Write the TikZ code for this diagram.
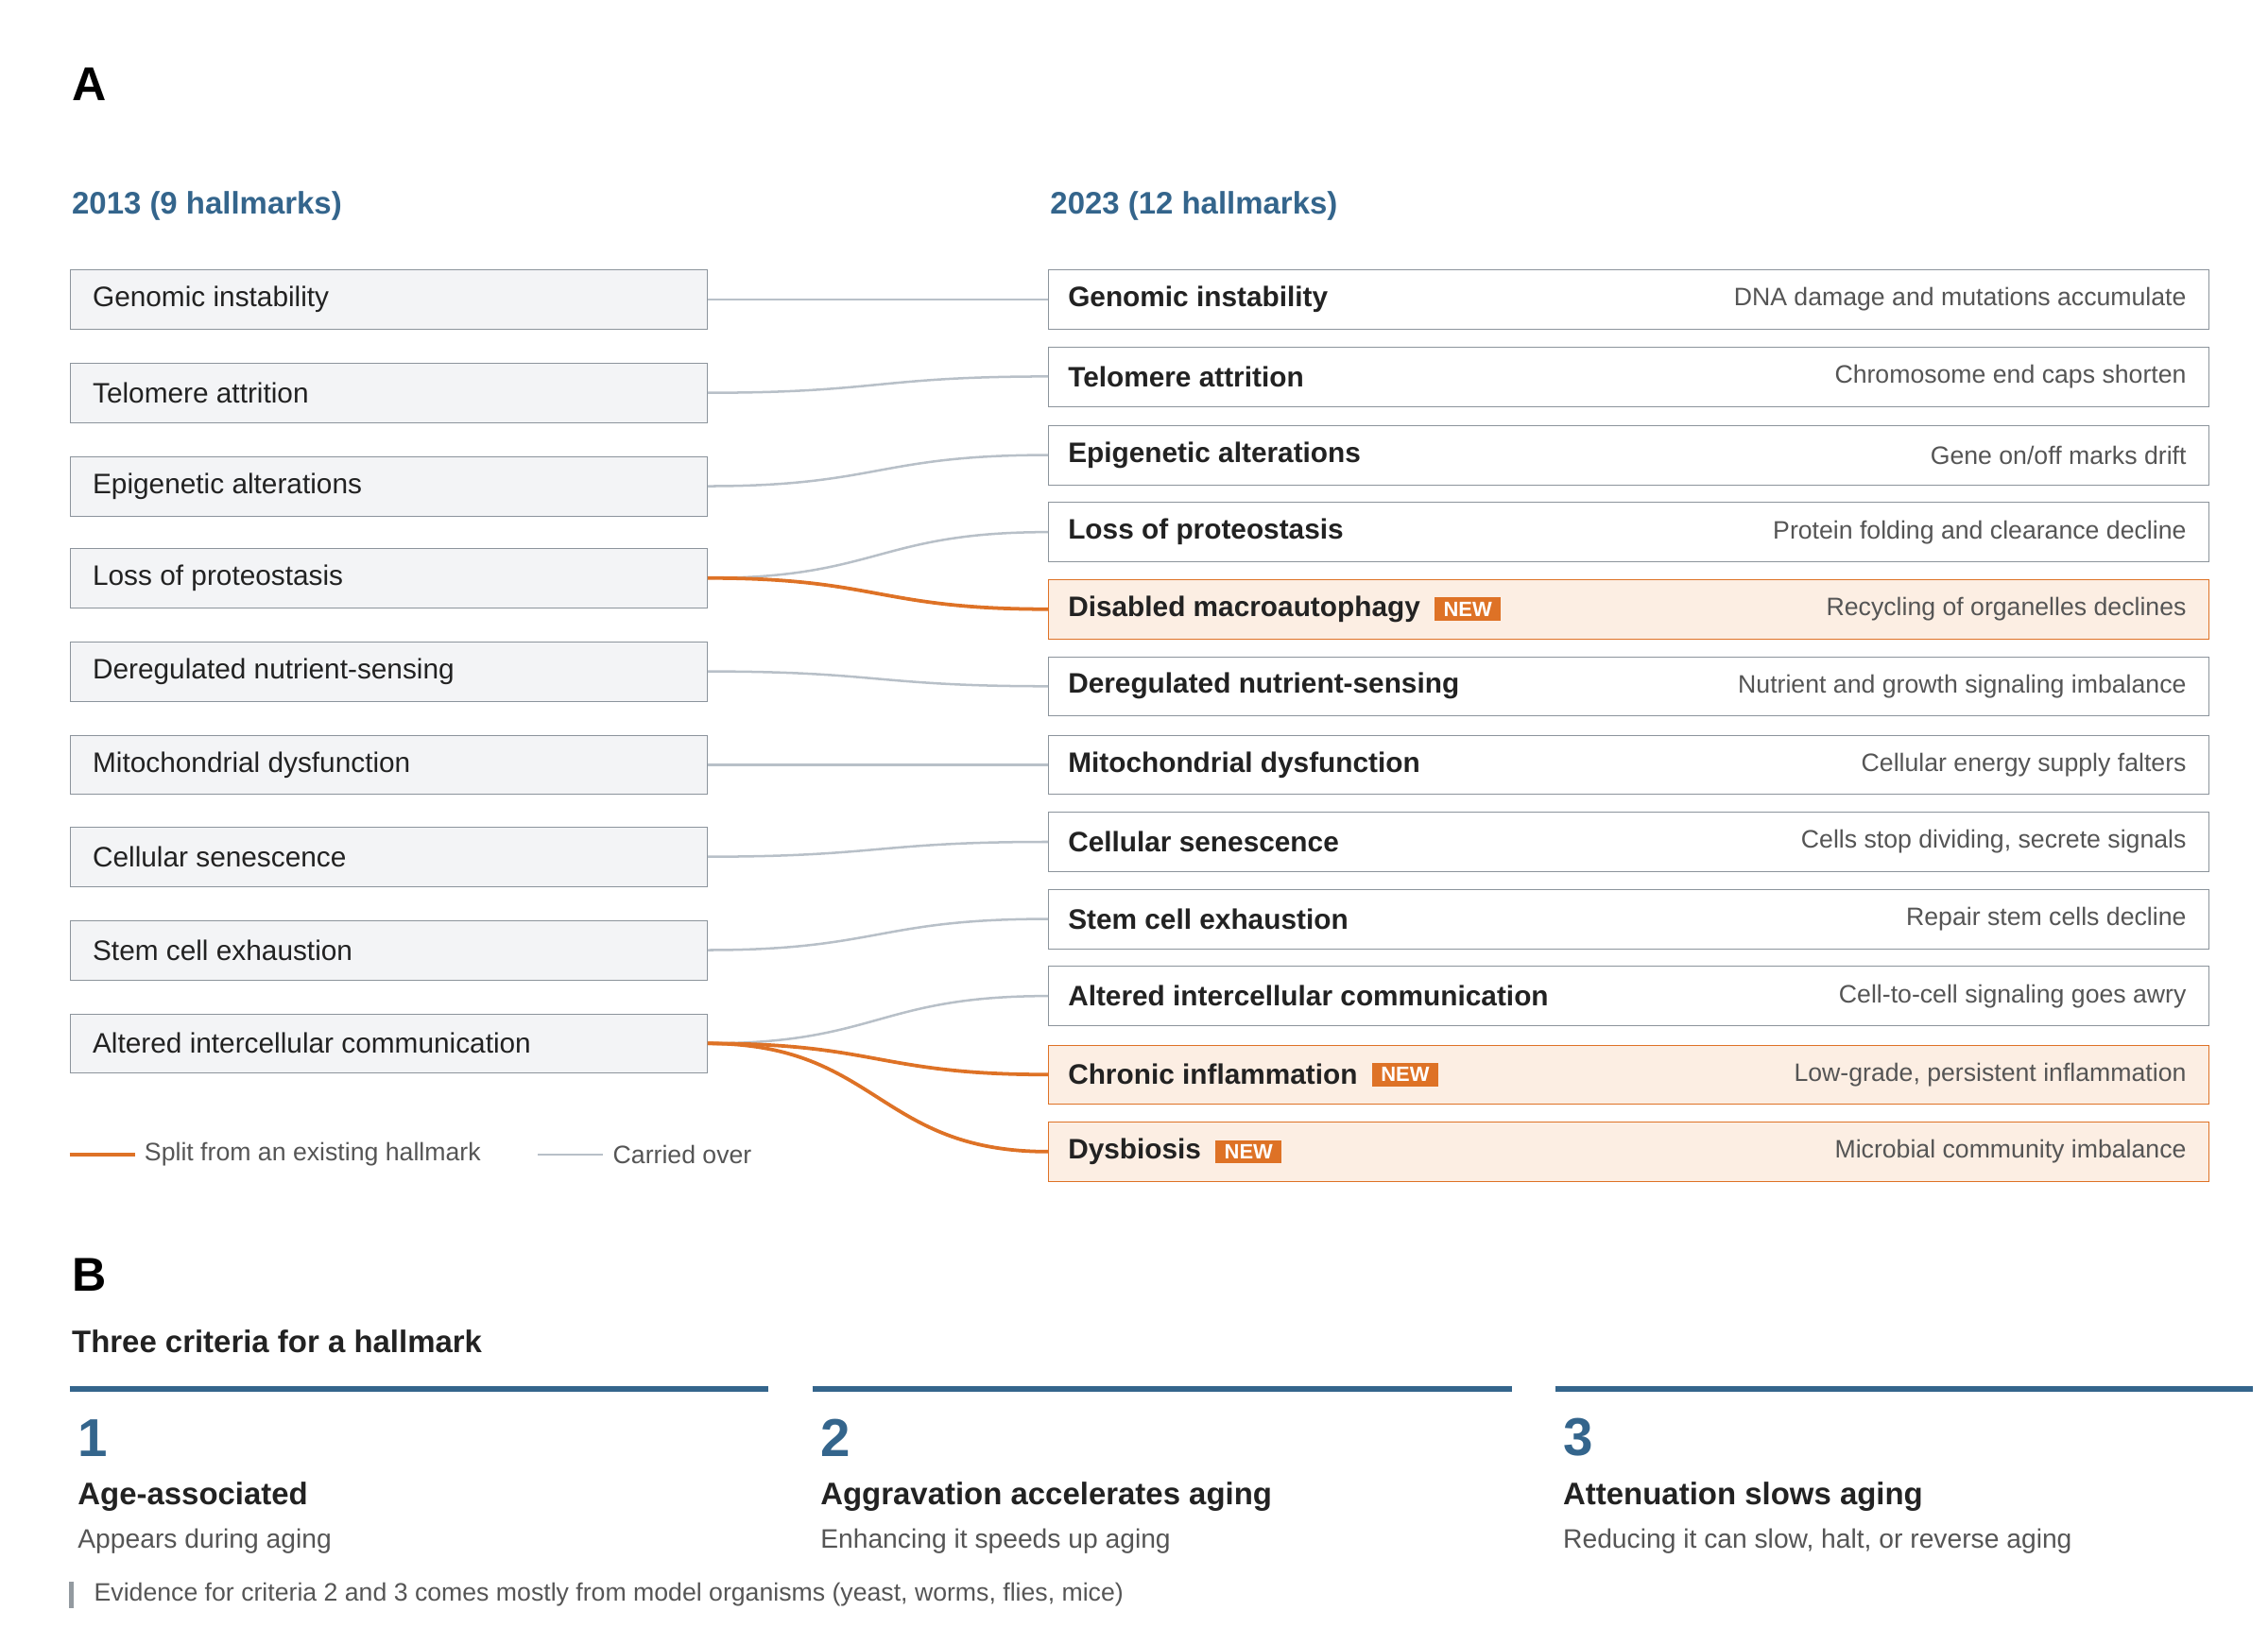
\documentclass[tikz,border=0pt]{standalone}
\usepackage{fontspec}
\setmainfont{Liberation Sans}
\usetikzlibrary{positioning,calc}
\definecolor{hallblue}{RGB}{52,101,140}
\definecolor{hallorange}{RGB}{222,114,38}
\definecolor{hallorangebg}{RGB}{252,238,227}
\definecolor{hallgrayline}{RGB}{184,192,200}
\definecolor{hallborder}{RGB}{140,148,156}
\definecolor{hallleftbg}{RGB}{243,244,246}
\definecolor{halltext}{RGB}{34,34,34}
\definecolor{halldesc}{RGB}{85,85,85}
\tikzset{
  oldbox/.style={draw=hallborder, fill=hallleftbg, minimum width=430, minimum height=40, anchor=west, inner sep=0},
  newbox/.style={draw=hallborder, fill=white, minimum width=783, minimum height=40, anchor=west, inner sep=0},
  addbox/.style={newbox, draw=hallorange, fill=hallorangebg},
  boxtext/.style={font=\fontsize{19}{22}\selectfont, text=halltext, anchor=west},
  boxtitle/.style={font=\fontsize{19}{22}\selectfont\bfseries, text=halltext, anchor=west},
  boxdesc/.style={font=\fontsize{17}{20}\selectfont, text=halldesc, anchor=east},
  badge/.style={fill=hallorange, text=white, font=\fontsize{14}{15}\selectfont\bfseries, inner xsep=6, inner ysep=3},
  carried/.style={hallgrayline, line width=1.6},
  split/.style={hallorange, line width=2.4},
  header/.style={font=\fontsize{21}{24}\selectfont\bfseries, text=hallblue, anchor=west},
}
\begin{document}
\begin{tikzpicture}[x=1pt, y=-1pt]
    \useasboundingbox (0,0) rectangle (1530,1098);
    % Panel A
    \node[font=\fontsize{32}{36}\selectfont\bfseries, anchor=west] (labelA) at (45,57) {A};
    \node[header] (head13) at (45,139) {2013 (9 hallmarks)};
    \node[header] (head23) at (705,139) {2023 (12 hallmarks)};

    % 2013 column
    \foreach \n/\y/\t in {1/202/Genomic instability, 2/265/Telomere attrition, 3/328/Epigenetic alterations,
        4/390/Loss of proteostasis, 5/453/Deregulated nutrient-sensing, 6/516/Mitochondrial dysfunction,
        7/578/Cellular senescence, 8/641/Stem cell exhaustion, 9/704/Altered intercellular communication} {
        \node[oldbox] (old\n) at (47,\y) {};
        \node[boxtext] at ([xshift=12]old\n.west) {\t};
    }

    % 2023 column
    \foreach \n/\y/\s/\t/\d in {1/202/newbox/Genomic instability/{DNA damage and mutations accumulate},
        2/254/newbox/Telomere attrition/{Chromosome end caps shorten},
        3/307/newbox/Epigenetic alterations/{Gene on/off marks drift},
        4/359/newbox/Loss of proteostasis/{Protein folding and clearance decline},
        5/411/addbox/Disabled macroautophagy/{Recycling of organelles declines},
        6/463/newbox/Deregulated nutrient-sensing/{Nutrient and growth signaling imbalance},
        7/516/newbox/Mitochondrial dysfunction/{Cellular energy supply falters},
        8/568/newbox/Cellular senescence/{Cells stop dividing, secrete signals},
        9/620/newbox/Stem cell exhaustion/{Repair stem cells decline},
        10/672/newbox/Altered intercellular communication/{Cell-to-cell signaling goes awry},
        11/725/addbox/Chronic inflammation/{Low-grade, persistent inflammation},
        12/777/addbox/Dysbiosis/{Microbial community imbalance}} {
        \node[\s] (new\n) at (707,\y) {};
        \node[boxtitle] (title\n) at ([xshift=10]new\n.west) {\t};
        \node[boxdesc] at ([xshift=-12]new\n.east) {\d};
    }
    \foreach \n in {5,11,12}
        \node[badge, right=6 of title\n] {NEW};

    % connectors
    \foreach \a/\b in {1/1, 2/2, 3/3, 4/4, 5/6, 6/7, 7/8, 8/9, 9/10}
        \draw[carried] (old\a.east) .. controls +(115,0) and +(-115,0) .. (new\b.west);
    \foreach \a/\b in {4/5, 9/11, 9/12}
        \draw[split] (old\a.east) .. controls +(115,0) and +(-115,0) .. (new\b.west);

    % legend
    \coordinate (legS) at (47,779);
    \draw[split] (legS) -- ++(44,0) coordinate (legSe);
    \node[boxdesc, anchor=west] at ([xshift=3]legSe) {Split from an existing hallmark};
    \coordinate (legC) at (363,779);
    \draw[carried] (legC) -- ++(44,0) coordinate (legCe);
    \node[boxdesc, anchor=west] at ([xshift=3]legCe) {Carried over};

    % Panel B
    \node[font=\fontsize{32}{36}\selectfont\bfseries, anchor=west] (labelB) at (45,860) {B};
    \node[font=\fontsize{21}{24}\selectfont\bfseries, text=halltext, anchor=west] (critHead) at (45,905) {Three criteria for a hallmark};
    \foreach \x/\xe/\k/\t/\d in {47/518/1/Age-associated/{Appears during aging},
        548/1020/2/Aggravation accelerates aging/{Enhancing it speeds up aging},
        1049/1520/3/Attenuation slows aging/{Reducing it can slow, halt, or reverse aging}} {
        \draw[hallblue, line width=3.5] (\x,937) -- (\xe,937);
        \node[font=\fontsize{36}{40}\selectfont\bfseries, text=hallblue, anchor=west] at (\x+2,970) {\k};
        \node[font=\fontsize{21}{24}\selectfont\bfseries, text=halltext, anchor=west] at (\x+2,1010) {\t};
        \node[font=\fontsize{18}{21}\selectfont, text=halldesc, anchor=west] at (\x+2,1040) {\d};
    }
    \draw[hallgrayline!80!black, line width=3] (48,1067) -- (48,1085);
    \node[font=\fontsize{17}{20}\selectfont, text=halldesc, anchor=west] (note) at (60,1076) {Evidence for criteria 2 and 3 comes mostly from model organisms (yeast, worms, flies, mice)};
\end{tikzpicture}
\end{document}
